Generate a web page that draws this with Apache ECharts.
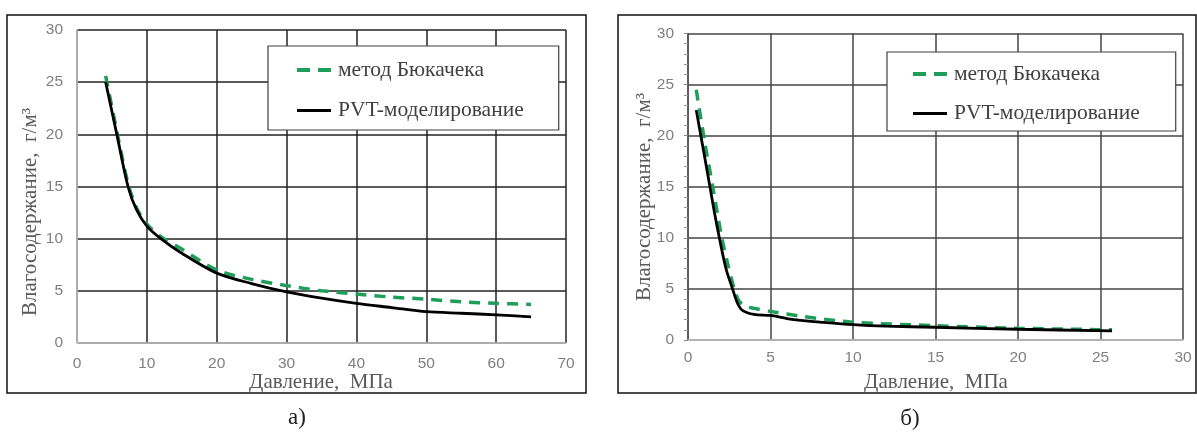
<!DOCTYPE html>
<html>
<head>
<meta charset="utf-8">
<script src="https://cdn.jsdelivr.net/npm/echarts@6/dist/echarts.min.js"></script>
<style>
html,body{margin:0;padding:0;background:#fff;}
#c{width:1197px;height:434px;}
</style>
</head>
<body>
<div id="c"></div>
<script>
// ---- Data ----
const seriesNames = ['метод Бюкачека', 'PVT-моделирование'];
// Chart a
const aPressure_buk = [4.1, 5.7, 7.3, 8.5, 10, 12, 15, 20, 25, 30, 35, 40, 45, 50, 55, 60, 65];
const aWater_buk    = [25.6, 20.3, 15.3, 13.0, 11.4, 10.2, 9.0, 7.0, 6.1, 5.5, 5.0, 4.7, 4.4, 4.2, 3.95, 3.8, 3.7];
const aPressure_pvt = [4.1, 5.7, 7.3, 8.5, 10, 12, 15, 20, 25, 30, 35, 40, 45, 50, 55, 60, 65];
const aWater_pvt    = [25.0, 20.0, 15.0, 12.8, 11.2, 10.0, 8.6, 6.7, 5.7, 4.9, 4.3, 3.8, 3.4, 3.0, 2.85, 2.7, 2.5];
// Chart b
const bPressure_buk = [0.5, 1.0, 1.5, 2.05, 2.4, 2.8, 3.1, 3.5, 4, 5, 7, 10, 15, 20, 25.7];
const bWater_buk    = [24.5, 19.5, 15.0, 10.0, 7.5, 5.0, 3.8, 3.3, 3.1, 2.8, 2.3, 1.75, 1.4, 1.15, 1.0];
const bPressure_pvt = [0.5, 1.0, 1.33, 1.6, 1.9, 2.3, 2.7, 3.0, 3.3, 4, 5, 6, 7, 8, 10, 12, 15, 20, 25.7];
const bWater_pvt    = [22.5, 18.0, 15.0, 12.5, 10.0, 7.0, 5.0, 3.6, 2.9, 2.5, 2.4, 2.1, 1.9, 1.75, 1.5, 1.35, 1.25, 1.05, 0.9];
// Axes / labels
const aXTicks = {min: 0, max: 70, interval: 10};
const bXTicks = {min: 0, max: 30, interval: 5};
const yTicks = {min: 0, max: 30, interval: 5};
const xTitle = 'Давление,  МПа';
const yTitle = 'Влагосодержание,  г/м³';
const captions = ['а)', 'б)'];

const zip = (xs, ys) => xs.map((x, i) => [x, ys[i]]);

const SERIF = '"Liberation Serif", "DejaVu Serif", serif';
const SANS = '"Liberation Sans", "Open Sans", sans-serif';
const GREEN = '#1f9e5a';

function xAxisCfg(gi, t, gridColor) {
  return {
    gridIndex: gi, type: 'value', min: t.min, max: t.max, interval: t.interval,
    axisLine: {show: true, lineStyle: {color: '#c8c8c8', width: 1.5}},
    axisTick: {show: false},
    axisLabel: {color: '#7f7f7f', fontFamily: SANS, fontSize: 15.5, margin: gi === 0 ? 13 : 10},
    splitLine: {show: true, lineStyle: {color: gridColor, width: 1.5}}
  };
}
function yAxisCfg(gi, gridColor) {
  const b = gi === 1;
  return {
    gridIndex: gi, type: 'value', min: yTicks.min, max: yTicks.max, interval: yTicks.interval,
    axisLine: {show: true, lineStyle: {color: b ? '#555' : '#c8c8c8', width: 1.5}},
    axisTick: {show: b, inside: false, length: 4, lineStyle: {color: '#888'}},
    minorTick: {show: b, splitNumber: 5, length: 4, lineStyle: {color: '#999'}},
    axisLabel: {color: '#7f7f7f', fontFamily: SANS, fontSize: 15.5, margin: 14},
    splitLine: {show: true, lineStyle: {color: gridColor, width: 1.5}}
  };
}
const DASH_ICON = 'path://M0,0h13v4h-13z M21,0h13v4h-13z';
const SOLID_ICON = 'path://M0,0h34v3h-34z';
function legendCfg(left, top, padding, gap) {
  return {
    left: left, top: top, orient: 'vertical',
    backgroundColor: '#fff',
    borderColor: '#404040', borderWidth: 1.2, borderRadius: 0,
    padding: padding, itemGap: gap, itemWidth: 34, itemHeight: 4,
    textStyle: {fontFamily: SERIF, fontSize: 21.5, color: '#404040', padding: [0, 0, 0, 2]},
    data: [
      {name: seriesNames[0], icon: DASH_ICON, itemStyle: {color: GREEN, borderWidth: 0}},
      {name: seriesNames[1], icon: SOLID_ICON, itemStyle: {color: '#000', borderWidth: 0}}
    ]
  };
}
function lineSeries(name, data, gi, dashed) {
  return {
    name: name, type: 'line', xAxisIndex: gi, yAxisIndex: gi,
    data: data, smooth: 0.3, showSymbol: false, symbol: 'none',
    lineStyle: dashed ? {color: GREEN, width: 3.5, type: [11, 8]} : {color: '#000', width: 2.8},
    itemStyle: {color: dashed ? GREEN : '#000'},
    z: dashed ? 3 : 4
  };
}

const chart = echarts.init(document.getElementById('c'), null, {renderer: 'canvas'});
chart.setOption({
  animation: false,
  grid: [
    {left: 77, top: 30, width: 489, height: 313},
    {left: 688, top: 33.5, width: 495, height: 306.5}
  ],
  xAxis: [xAxisCfg(0, aXTicks, '#222'), xAxisCfg(1, bXTicks, '#444')],
  yAxis: [yAxisCfg(0, '#222'), yAxisCfg(1, '#444')],
  legend: [
    legendCfg(268, 46, [13, 35, 8.5, 29], 18.5),
    legendCfg(887, 52, [11, 36, 6.5, 26], 17.5)
  ],
  series: [
    lineSeries(seriesNames[0], zip(aPressure_buk, aWater_buk), 0, true),
    lineSeries(seriesNames[1], zip(aPressure_pvt, aWater_pvt), 0, false),
    lineSeries(seriesNames[0], zip(bPressure_buk, bWater_buk), 1, true),
    lineSeries(seriesNames[1], zip(bPressure_pvt, bWater_pvt), 1, false)
  ],
  graphic: [
    {type: 'rect', shape: {x: 7, y: 15, width: 579, height: 378}, style: {fill: 'none', stroke: '#111', lineWidth: 1.5}, z: -1, silent: true},
    {type: 'rect', shape: {x: 618, y: 15, width: 578, height: 378}, style: {fill: 'none', stroke: '#111', lineWidth: 1.5}, z: -1, silent: true},
    {type: 'text', x: 321, y: 382, style: {text: xTitle, font: '21px ' + SERIF, fill: '#595959', textAlign: 'center', textVerticalAlign: 'middle'}},
    {type: 'text', x: 936, y: 382, style: {text: xTitle, font: '21px ' + SERIF, fill: '#595959', textAlign: 'center', textVerticalAlign: 'middle'}},
    {type: 'text', x: 30, y: 212, rotation: Math.PI / 2, style: {text: yTitle, font: '21px ' + SERIF, fill: '#595959', textAlign: 'center', textVerticalAlign: 'middle'}},
    {type: 'text', x: 644, y: 197, rotation: Math.PI / 2, style: {text: yTitle, font: '21px ' + SERIF, fill: '#595959', textAlign: 'center', textVerticalAlign: 'middle'}},
    {type: 'text', x: 297, y: 418, style: {text: captions[0], font: '23px ' + SERIF, fill: '#222', textAlign: 'center', textVerticalAlign: 'middle'}},
    {type: 'text', x: 910, y: 419, style: {text: captions[1], font: '23px ' + SERIF, fill: '#222', textAlign: 'center', textVerticalAlign: 'middle'}}
  ]
});
</script>
</body>
</html>
